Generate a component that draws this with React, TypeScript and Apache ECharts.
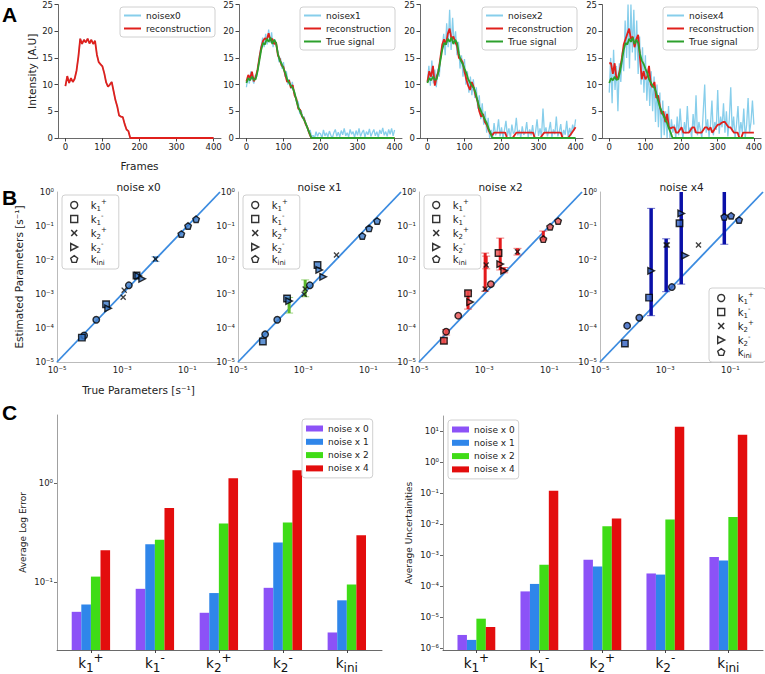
import React, { useEffect, useRef } from 'react';
import * as echarts from 'echarts';

const F = 'DejaVu Sans';

// ---------------- Panel A : intensity traces ----------------
const SIGNAL_STEP = 5; // frames between samples (signal / reconstructions)
const NOISE_STEP = 4; // frames between samples (noisy traces)
const frameTicks = [0, 100, 200, 300, 400];

const trueSignal = [
  10.3, 11.2, 10.8, 11.5, 10.9, 11.0, 12.5, 14.5, 16.5, 17.8,
  17.5, 18.6, 18.0, 18.8, 17.6, 18.4, 17.8, 15.8, 14.5, 13.9,
  13.0, 12.2, 11.0, 10.4, 9.8, 9.4, 8.5, 7.0, 5.8, 5.0,
  4.2, 3.5, 2.8, 1.8, 1.0, 0, 0, 0, 0, 0,
  0, 0, 0, 0, 0, 0, 0, 0, 0, 0,
  0, 0, 0, 0, 0, 0, 0, 0, 0, 0,
  0, 0, 0, 0, 0, 0, 0, 0, 0, 0,
  0, 0, 0, 0, 0, 0, 0, 0, 0, 0,
  0,
];

const recon0 = [
  9.7, 11.6, 10.3, 11.2, 10.5, 11.1, 12.6, 15.2, 18.6, 17.6,
  18.4, 17.9, 18.6, 17.7, 18.4, 17.6, 18.2, 15.6, 14.2, 13.8,
  13.4, 12.1, 10.4, 9.6, 10.0, 10.5, 8.8, 7.1, 5.9, 4.2,
  4.0, 3.9, 2.6, 1.6, 1.3, 0, 0, 0, 0, 0,
  0, 0, 0, 0, 0, 0, 0, 0, 0, 0,
  0, 0, 0, 0, 0, 0, 0, 0, 0, 0,
  0, 0, 0, 0, 0, 0, 0, 0, 0, 0,
  0, 0, 0, 0, 0, 0, 0, 0, 0, 0,
  0,
];

const recon1 = [
  10.6, 11.8, 11.2, 12.4, 10.6, 11.4, 12.8, 15.0, 17.0, 18.2,
  18.7, 18.4, 19.6, 18.2, 18.6, 17.6, 17.9, 15.5, 14.8, 13.6,
  13.3, 11.8, 10.5, 10.8, 9.4, 9.9, 8.0, 7.3, 5.5, 5.3,
  4.0, 3.7, 2.6, 1.9, 0.8, 0, 0, 0, 0, 0,
  0, 0, 0, 0, 0, 0, 0, 0, 0, 0,
  0, 0, 0, 0, 0, 0, 0, 0, 0, 0,
  0, 0, 0, 0, 0, 0, 0, 0, 0, 0,
  0, 0, 0, 0, 0, 0, 0, 0, 0, 0,
  0,
];

const recon2 = [
  10.5, 12.5, 11.5, 13.5, 9.8, 11.5, 12.5, 15.0, 17.5, 18.5,
  17.5, 19.5, 20.5, 18.5, 19.0, 18.0, 17.2, 15.0, 14.8, 14.2,
  12.5, 11.0, 9.8, 9.0, 10.5, 9.5, 8.0, 7.0, 5.0, 4.0,
  4.5, 3.0, 2.5, 1.5, 0.8, 0.5, 1, 1, 1, 1,
  1, 1, 1, 0, 0, 0, 0, 0.5, 1, 1,
  1, 1, 1, 1, 1, 1, 1, 1, 0, 0,
  0, 0, 0.5, 1, 1, 1, 1, 1, 1, 1,
  1, 1, 1, 0, 0, 0, 0, 0.5, 1, 1.5,
  2,
];

const recon4 = [
  14.0, 14.0, 12.0, 14.0, 11.0, 11.5, 13.0, 15.0, 17.5, 18.5,
  19.5, 20.5, 18.5, 19.0, 17.0, 18.5, 19.3, 15.0, 11.0, 12.5,
  11.0, 11.5, 13.5, 10.0, 9.5, 10.5, 7.5, 8.0, 6.0, 4.5,
  5.0, 3.0, 4.5, 2.0, 1.8, 2.0, 2.0, 1.0, 1.0, 1.5,
  2.0, 1.0, 1.0, 1.0, 1.0, 1.5, 2.0, 2.0, 1.0, 1.0,
  1.0, 1.0, 1.5, 2.0, 2.0, 1.5, 2.0, 1.0, 1.5, 2.0,
  2.5, 2.5, 2.8, 3.0, 3.0, 2.5, 2.0, 2.0, 1.5, 1.0,
  1.0, 1.0, 0, 0, 1.0, 1.0, 1.0, 1.0, 1.0, 1.0,
  1.0,
];

const noise1 = [
  9.5, 11.5, 10.2, 12.5, 11.0, 10.2, 11.8, 11.5, 13.5, 15.8,
  17.2, 18.8, 17.0, 19.5, 17.5, 20.3, 17.8, 19.8, 17.0, 18.5,
  17.5, 16.5, 14.2, 15.0, 13.0, 14.2, 11.5, 12.5, 10.0, 11.0,
  9.2, 10.5, 8.5, 8.0, 6.5, 6.8, 4.5, 5.2, 3.6, 4.0,
  2.5, 2.2, 1.0, 1.5, 0.2, 0.5, 0, 1.2, 0.3, 1.0,
  0.8, 0, 1.5, 0.4, 1.0, 0.2, 1.3, 0.5, 0, 1.0,
  1.6, 0.3, 1.1, 0.2, 1.4, 0.6, 1.8, 0.4, 1.0, 0.2,
  1.6, 0.7, 1.2, 0.1, 1.4, 0.5, 1.8, 0.3, 1.0, 1.5,
  0.2, 1.2, 0.6, 1.7, 0.3, 1.0, 1.6, 0.4, 1.2, 0.1,
  1.5, 0.8, 1.9, 0.5, 1.2, 0.3, 1.6, 0.7, 1.8, 0.4,
  1.5,
];

const noise2 = [
  10.5, 13.5, 9.8, 14.5, 10.2, 12.8, 9.5, 13.0, 11.5, 15.5,
  17.0, 19.5, 15.5, 21.5, 17.0, 24.0, 16.5, 22.5, 17.5, 20.0,
  15.5, 18.0, 13.0, 15.5, 11.5, 14.8, 10.0, 12.5, 8.5, 11.5,
  8.0, 11.0, 7.5, 9.5, 5.5, 8.0, 3.5, 6.5, 2.5, 5.0,
  1.0, 3.8, 0, 1.5, 0, 2.8, 0.5, 1.2, 3.5, 0.3,
  2.0, 0, 1.5, 3.2, 0.4, 1.8, 0, 2.5, 0.8, 1.2,
  3.8, 0.5, 1.5, 0, 2.2, 0.6, 1.0, 3.0, 0.2, 1.6,
  0.5, 2.4, 0, 1.2, 3.5, 0.4, 1.8, 0.2, 5.5, 0.8,
  2.0, 0.3, 1.4, 3.0, 0.1, 1.6, 0.7, 4.0, 0.3, 1.2,
  2.6, 0, 1.5, 0.6, 3.2, 0.2, 1.9, 0.5, 2.5, 1.4,
  3.5,
];

const noise4 = [
  8.5, 15.0, 6.5, 16.5, 9.0, 13.5, 5.0, 14.0, 10.5, 16.0,
  12.5, 22.0, 15.0, 25.0, 13.0, 25.0, 16.0, 24.0, 14.5, 22.0,
  12.0, 19.0, 10.0, 17.0, 8.5, 15.5, 7.0, 13.0, 6.0, 12.5,
  5.0, 11.5, 3.0, 10.0, 2.0, 8.5, 0, 7.0, 0.5, 5.0,
  0, 6.0, 0, 3.5, 1.0, 2.5, 0, 4.0, 0.5, 5.5,
  1.5, 0, 3.0, 0.8, 6.0, 1.0, 2.0, 0, 4.5, 1.0,
  8.0, 0.5, 3.0, 1.5, 0, 5.0, 10.0, 1.0, 3.5, 0.2,
  2.5, 7.0, 0.5, 3.0, 1.5, 9.0, 0.8, 4.0, 2.0, 6.5,
  1.0, 5.0, 0.3, 3.5, 9.5, 1.2, 4.0, 0, 2.5, 6.0,
  0.5, 3.0, 1.0, 5.5, 0, 2.5, 7.5, 1.0, 3.0, 7.0,
  2.5,
];

// ---------------- Panel B : estimated vs true parameters ----------------
const paramNames = ['k1+', 'k1-', 'k2+', 'k2-', 'kini'];
const paramType = [0, 0, 0, 1, 1, 1, 2, 2, 2, 3, 3, 3, 4, 4, 4];
const trueParams = [6.8e-5, 1.6e-4, 1.6e-3, 5.8e-5, 3.2e-4, 2.75e-3, 1.07e-3, 1.15e-3, 1.05e-2, 3.7e-4, 3.1e-3, 4.1e-3, 6.5e-2, 1.05e-1, 1.85e-1];
const est0 = [6.0e-5, 1.75e-4, 1.8e-3, 5.2e-5, 5.0e-4, 3.5e-3, 8.0e-4, 1.3e-3, 1.07e-2, 3.8e-4, 3.4e-3, 2.8e-3, 5.8e-2, 1.0e-1, 1.58e-1];
const est1 = [6.5e-5, 1.75e-4, 1.8e-3, 4.0e-5, 7.4e-4, 7.1e-3, 9.8e-4, 1.4e-3, 1.4e-2, 6.2e-4, 5.1e-3, 3.2e-3, 5.1e-2, 8.5e-2, 1.4e-1];
const est2 = [7.8e-5, 2.3e-4, 1.95e-3, 4.2e-5, 1.05e-3, 1.6e-2, 1.4e-3, 7.1e-3, 1.75e-2, 5.8e-4, 7.6e-3, 4.8e-3, 4.1e-2, 9.5e-2, 1.4e-1];
const est4 = [1.17e-4, 2.0e-4, 1.6e-3, 3.5e-5, 7.8e-4, 1.2e-1, 2.75e-2, 2.75e-2, 2.75e-2, 4.8e-3, 2.35e-1, 1.35e-2, 1.85e-1, 2.0e-1, 1.5e-1];
// error bars: [true value, lower, upper]
const err0 = [[1.05e-2, 9.0e-3, 1.25e-2], [5.8e-5, 4.6e-5, 5.8e-5]];
const err1 = [[3.7e-4, 2.75e-4, 7.9e-4], [1.15e-3, 8.3e-4, 2.6e-3]];
const err2 = [
  [6.8e-5, 6.2e-5, 9.0e-5], [5.8e-5, 3.6e-5, 4.9e-5], [3.2e-4, 3.6e-4, 1.2e-3],
  [1.07e-3, 1.2e-3, 1.6e-2], [1.15e-3, 5.5e-3, 1.3e-2], [3.1e-3, 5.1e-3, 4.4e-2],
  [4.1e-3, 4.2e-3, 6.0e-3], [1.05e-2, 1.4e-2, 2.2e-2], [6.5e-2, 3.9e-2, 7.1e-2],
];
const err4 = [[3.7e-4, 2.3e-4, 3.3e-1], [1.07e-3, 1.17e-3, 4.2e-2], [3.1e-3, 1.95e-3, 3.0], [6.5e-2, 2.9e-2, 3.0]];

// ---------------- Panel C : bar charts ----------------
const noiseLevels = ['noise x 0', 'noise x 1', 'noise x 2', 'noise x 4'];
const logErr0 = [0.0497, 0.085, 0.0486, 0.087, 0.0307];
const logErr1 = [0.0589, 0.24, 0.077, 0.251, 0.065];
const logErr2 = [0.113, 0.267, 0.389, 0.40, 0.094];
const logErr4 = [0.209, 0.56, 1.12, 1.35, 0.297];
const unc0 = [2.6e-6, 6.6e-5, 6.9e-4, 2.5e-4, 8.5e-4];
const unc1 = [1.8e-6, 1.15e-4, 4.2e-4, 2.3e-4, 6.6e-4];
const unc2 = [8.7e-6, 4.8e-4, 8.3e-3, 1.38e-2, 1.66e-2];
const unc4 = [4.7e-6, 0.117, 1.48e-2, 13.4, 7.5];

// ---------------- helpers ----------------
const SUP: Record<string, string> = { '-': '⁻', '0': '⁰', '1': '¹', '2': '²', '3': '³', '4': '⁴', '5': '⁵', '6': '⁶', '7': '⁷', '8': '⁸', '9': '⁹' };
const sup = (n: number) => String(n).split('').map((c) => SUP[c]).join('');
const logLabel = (v: number) => '10' + sup(Math.round(Math.log10(v)));
const kParts: Record<string, [string, string]> = { 'k1+': ['1', '+'], 'k1-': ['1', '-'], 'k2+': ['2', '+'], 'k2-': ['2', '-'], kini: ['ini', ''] };
const kRich = (name: string, p: string) => {
  const [sb, sp] = kParts[name];
  return `{${p}k|k}{${p}b|${sb}}` + (sp ? `{${p}p|${sp}}` : '');
};

const toPairs = (arr: number[], step: number) => arr.map((v, i) => [i * step, v]);

const NOISE_C = '#87ceeb';
const RECON_C = '#e0201c';
const TRUE_C = '#2ca02c';
const BAR_COLORS = ['#8c52f7', '#2f86ea', '#3fdc16', '#e30d0d'];
const B_COLORS = ['#2f7fd0', '#5cb82c', '#e31a1c', '#0a10a8'];
const B_FILL = ['#3a78c8', '#3a78c8', '#e85050', '#2f5fc0'];
const DIAG_C = '#3b8be0';

const X_PATH = 'path://M0,1.6L1.6,0L5,3.4L8.4,0L10,1.6L6.6,5L10,8.4L8.4,10L5,6.6L1.6,10L0,8.4L3.4,5Z';
const TRI_PATH = 'path://M0,0L10,5L0,10Z';
const PENT_PATH = 'path://M5,0L10,3.6L8.1,9.5L1.9,9.5L0,3.6Z';
const SYMBOLS = ['circle', 'rect', X_PATH, TRI_PATH, PENT_PATH];

const A_LEFT = [58, 239, 420, 602];
const B_LEFT = [57, 238, 419, 600];

export default function App() {
  const ref = useRef<HTMLDivElement>(null);
  useEffect(() => {
    if (!ref.current) return;
    const chart = echarts.init(ref.current, undefined, { renderer: 'svg' });

    const grid: any[] = [];
    const xAxis: any[] = [];
    const yAxis: any[] = [];
    const series: any[] = [];
    const legend: any[] = [];
    const title: any[] = [];

    const tickLabel = { fontFamily: F, fontSize: 8.5, color: '#222' };

    // ---------- Panel A ----------
    const aPanels = [
      { noiseName: 'noisex0', noise: recon0, step: SIGNAL_STEP, recon: recon0, withTrue: false },
      { noiseName: 'noisex1', noise: noise1, step: NOISE_STEP, recon: recon1, withTrue: true },
      { noiseName: 'noisex2', noise: noise2, step: NOISE_STEP, recon: recon2, withTrue: true },
      { noiseName: 'noisex4', noise: noise4, step: NOISE_STEP, recon: recon4, withTrue: true },
    ];
    aPanels.forEach((p, i) => {
      const gi = grid.length;
      grid.push({ left: A_LEFT[i], top: 4, width: 163, height: 134 });
      xAxis.push({
        type: 'value', gridIndex: gi, min: -20, max: 420,
        axisLine: { onZero: false, lineStyle: { color: '#444', width: 0.8 } },
        axisTick: { customValues: frameTicks, length: 3.5, lineStyle: { color: '#444' } },
        axisLabel: { customValues: frameTicks, ...tickLabel, margin: 4 },
        splitLine: { show: false },
        name: i === 0 ? 'Frames' : '', nameLocation: 'middle', nameGap: 22,
        nameTextStyle: { fontFamily: F, fontSize: 10.5, color: '#222' },
      });
      yAxis.push({
        type: 'value', gridIndex: gi, min: 0, max: 25, interval: 5,
        axisLine: { show: true, onZero: false, lineStyle: { color: '#444', width: 0.8 } },
        axisTick: { show: true, length: 3.5, lineStyle: { color: '#444' } },
        axisLabel: { ...tickLabel, margin: 5 },
        splitLine: { show: false },
        name: i === 0 ? 'Intensity [A.U]' : '', nameLocation: 'middle', nameGap: 21,
        nameTextStyle: { fontFamily: F, fontSize: 10.5, color: '#222' },
      });
      series.push({
        type: 'line', name: p.noiseName, xAxisIndex: gi, yAxisIndex: gi, data: toPairs(p.noise, p.step),
        symbol: 'none', color: NOISE_C, lineStyle: { width: 1.3, color: NOISE_C }, z: 2, silent: true,
      });
      series.push({
        type: 'line', name: 'reconstruction', xAxisIndex: gi, yAxisIndex: gi, data: toPairs(p.recon, SIGNAL_STEP),
        symbol: 'none', color: RECON_C, lineStyle: { width: 1.8, color: RECON_C }, z: 3, silent: true,
      });
      if (p.withTrue) {
        series.push({
          type: 'line', name: 'True signal', xAxisIndex: gi, yAxisIndex: gi, data: toPairs(trueSignal, SIGNAL_STEP),
          symbol: 'none', color: TRUE_C, lineStyle: { width: 1.8, color: TRUE_C }, z: 4, silent: true,
        });
      }
      const items: any[] = [
        { name: p.noiseName, itemStyle: { color: NOISE_C } },
        { name: 'reconstruction', itemStyle: { color: RECON_C } },
      ];
      if (p.withTrue) items.push({ name: 'True signal', itemStyle: { color: TRUE_C } });
      legend.push({
        data: items, orient: 'vertical', left: [120, 300, 482, 663][i], top: 7,
        icon: 'rect', itemWidth: 17, itemHeight: 2, itemGap: 2, padding: [3, 4, 3, 4],
        borderColor: '#d0d0d0', borderWidth: 1, borderRadius: 3, backgroundColor: 'rgba(255,255,255,0.85)',
        textStyle: { fontFamily: F, fontSize: 9, color: '#222', lineHeight: 11 }, selectedMode: false,
      });
    });

    // ---------- Panel B ----------
    const bPanels = [
      { title: 'noise x0', est: est0, err: err0 },
      { title: 'noise x1', est: est1, err: err1 },
      { title: 'noise x2', est: est2, err: err2 },
      { title: 'noise x4', est: est4, err: err4 },
    ];
    const legendRich = {
      lk: { fontFamily: F, fontSize: 10, lineHeight: 14, padding: [0, 0, 0, 8], color: '#222' },
      lb: { fontFamily: F, fontSize: 7, lineHeight: 7, verticalAlign: 'bottom', color: '#222' },
      lp: { fontFamily: F, fontSize: 7, lineHeight: 7, verticalAlign: 'top', color: '#222' },
    };
    bPanels.forEach((p, j) => {
      const gi = grid.length;
      const col = B_COLORS[j];
      grid.push({ left: B_LEFT[j], top: 192, width: 163, height: 170 });
      xAxis.push({
        type: 'log', logBase: 10, gridIndex: gi, min: 1e-5, max: 1,
        axisLine: { lineStyle: { color: '#aaa', width: 0.8 } },
        axisTick: { show: false },
        axisLabel: {
          ...tickLabel, margin: 3, showMaxLabel: false,
          formatter: (v: number) => { const e = Math.round(Math.log10(v)); return e % 2 !== 0 ? logLabel(v) : ''; },
        },
        splitLine: { show: false },
        name: j === 0 ? 'True Parameters [s⁻¹]' : '', nameLocation: 'middle', nameGap: 22,
        nameTextStyle: { fontFamily: F, fontSize: 10.5, color: '#222' },
      });
      yAxis.push({
        type: 'log', logBase: 10, gridIndex: gi, min: 1e-5, max: 1,
        axisLine: { show: true, onZero: false, lineStyle: { color: '#aaa', width: 0.8 } },
        axisTick: { show: false },
        axisLabel: { ...tickLabel, margin: 3, formatter: (v: number) => logLabel(v) },
        splitLine: { show: false },
        name: j === 0 ? 'Estimated Parameters [s⁻¹]' : '', nameLocation: 'middle', nameGap: 33,
        nameTextStyle: { fontFamily: F, fontSize: 10.5, color: '#222' },
      });
      title.push({
        text: p.title, left: B_LEFT[j] + 81.5, top: 181, textAlign: 'center', padding: 0,
        textStyle: { fontFamily: F, fontSize: 10.5, fontWeight: 'normal', color: '#222' },
      });
      series.push({
        type: 'line', xAxisIndex: gi, yAxisIndex: gi, data: [[1e-5, 1e-5], [1, 1]], symbol: 'none',
        lineStyle: { color: DIAG_C, width: 1.8 }, z: 1, silent: true,
      });
      series.push({
        type: 'custom', xAxisIndex: gi, yAxisIndex: gi, data: p.err, z: 2, silent: true,
        encode: { x: 0, y: [1, 2] },
        renderItem: (params: any, api: any) => {
          const x = api.value(0), lo = api.value(1), hi = api.value(2);
          const cs = params.coordSys;
          const pl = api.coord([x, lo]);
          const ph = api.coord([x, hi]);
          const top = Math.max(ph[1], cs.y);
          const bot = Math.min(pl[1], cs.y + cs.height);
          const children: any[] = [
            { type: 'line', shape: { x1: pl[0], y1: bot, x2: pl[0], y2: top }, style: { stroke: col, lineWidth: j === 3 ? 3.5 : 3 } },
            { type: 'line', shape: { x1: pl[0] - 4, y1: pl[1], x2: pl[0] + 4, y2: pl[1] }, style: { stroke: col, opacity: 0.6, lineWidth: 1 } },
          ];
          if (ph[1] >= cs.y) children.push({ type: 'line', shape: { x1: ph[0] - 4, y1: ph[1], x2: ph[0] + 4, y2: ph[1] }, style: { stroke: col, opacity: 0.6, lineWidth: 1 } });
          return { type: 'group', children };
        },
      });
      paramNames.forEach((nm, t) => {
        const data = trueParams.map((tv, k) => [tv, p.est[k], paramType[k]]).filter((d) => d[2] === t).map((d) => [d[0], d[1]]);
        series.push({
          type: 'scatter', name: nm, xAxisIndex: gi, yAxisIndex: gi, data, symbol: SYMBOLS[t], symbolSize: t === 2 ? 6 : 6.5,
          itemStyle: t === 2 ? { color: '#111' } : { color: B_FILL[j], borderColor: '#000', borderWidth: 1.4 }, z: 3, silent: true,
        });
      });
      legend.push({
        data: paramNames.map((nm, t) => ({
          name: nm, icon: SYMBOLS[t],
          itemStyle: t === 2 ? { color: '#000', borderWidth: 0 } : { color: '#fff', borderColor: '#000', borderWidth: 1.4 },
        })),
        orient: 'vertical', left: j === 3 ? 709 : B_LEFT[j] + 5, top: j === 3 ? 288 : 195,
        itemWidth: 7, itemHeight: 7, itemGap: 0, padding: [3, 12, 3, 8],
        borderColor: '#d0d0d0', borderWidth: 1, borderRadius: 3, backgroundColor: 'rgba(255,255,255,0.85)',
        formatter: (name: string) => kRich(name, 'l'),
        textStyle: { fontFamily: F, fontSize: 10, color: '#222', rich: legendRich }, selectedMode: false,
      });
    });

    // ---------- Panel C ----------
    const catRich = {
      ck: { fontFamily: F, fontSize: 13.5, lineHeight: 22, color: '#111' },
      cb: { fontFamily: F, fontSize: 12, lineHeight: 11, verticalAlign: 'bottom', color: '#111' },
      cp: { fontFamily: F, fontSize: 12, lineHeight: 11, verticalAlign: 'top', color: '#111' },
    };
    const cPanels = [
      { left: 57, top: 415, width: 325, height: 238, min: 0.0204, max: 4.9, data: [logErr0, logErr1, logErr2, logErr4], name: 'Average Log Error', legendLeft: 302, legendTop: 419 },
      { left: 443, top: 416, width: 320, height: 237, min: 8.5e-7, max: 30, data: [unc0, unc1, unc2, unc4], name: 'Average Uncertainities', legendLeft: 448, legendTop: 420 },
    ];
    const BAR_W = 0.15;
    cPanels.forEach((p) => {
      const gi = grid.length;
      grid.push({ left: p.left, top: p.top, width: p.width, height: p.height });
      xAxis.push({
        type: 'value', gridIndex: gi, min: -0.53, max: 4.55,
        axisLine: { onZero: false, lineStyle: { color: '#444', width: 0.8 } },
        axisTick: { customValues: [0, 1, 2, 3, 4], length: 3, lineStyle: { color: '#444' } },
        axisLabel: {
          customValues: [0, 1, 2, 3, 4], margin: 2,
          formatter: (v: number) => kRich(paramNames[Math.round(v)], 'c'),
          rich: catRich,
        },
        splitLine: { show: false },
      });
      yAxis.push({
        type: 'log', logBase: 10, gridIndex: gi, min: p.min, max: p.max,
        axisLine: { show: true, onZero: false, lineStyle: { color: '#888', width: 0.8 } },
        axisTick: { show: true, length: 3, lineStyle: { color: '#666' } },
        axisLabel: { ...tickLabel, margin: 4, showMinLabel: false, showMaxLabel: false, formatter: (v: number) => logLabel(v) },
        splitLine: { show: false },
        name: p.name, nameLocation: 'middle', nameGap: 30,
        nameTextStyle: { fontFamily: F, fontSize: 9, color: '#222' },
      });
      p.data.forEach((vals, s) => {
        const col = BAR_COLORS[s];
        const off = (s - 1.5) * BAR_W;
        series.push({
          type: 'custom', name: noiseLevels[s], xAxisIndex: gi, yAxisIndex: gi, color: col, silent: true,
          data: vals.map((v, i) => [i, v]), encode: { x: 0, y: 1 },
          renderItem: (params: any, api: any) => {
            const x = api.value(0) + off;
            const v = api.value(1);
            const cs = params.coordSys;
            const pl = api.coord([x - BAR_W / 2, v]);
            const pr = api.coord([x + BAR_W / 2, v]);
            const base = cs.y + cs.height;
            return { type: 'rect', shape: { x: pl[0], y: pl[1], width: pr[0] - pl[0], height: base - pl[1] }, style: { fill: col } };
          },
        });
      });
      legend.push({
        data: noiseLevels.map((nm, s) => ({ name: nm, itemStyle: { color: BAR_COLORS[s] } })),
        orient: 'vertical', left: p.legendLeft, top: p.legendTop, icon: 'rect',
        itemWidth: 17, itemHeight: 6, itemGap: 2.3, padding: [4, 4, 4, 4],
        borderColor: '#d0d0d0', borderWidth: 1, borderRadius: 3, backgroundColor: 'rgba(255,255,255,0.85)',
        textStyle: { fontFamily: F, fontSize: 9, color: '#222', lineHeight: 11 }, selectedMode: false,
      });
    });

    // panel letters
    [['A', 4], ['B', 187], ['C', 402]].forEach(([t, y]) => {
      title.push({ text: t, left: 2, top: y, padding: 0, textStyle: { fontFamily: 'Liberation Sans', fontSize: 21, fontWeight: 'bold', color: '#000' } });
    });

    chart.setOption({ animation: false, backgroundColor: '#fff', grid, xAxis, yAxis, series, legend, title });
    return () => chart.dispose();
  }, []);

  return <div ref={ref} style={{ position: 'fixed', left: 0, top: 0, width: 765, height: 674 }} />;
}
